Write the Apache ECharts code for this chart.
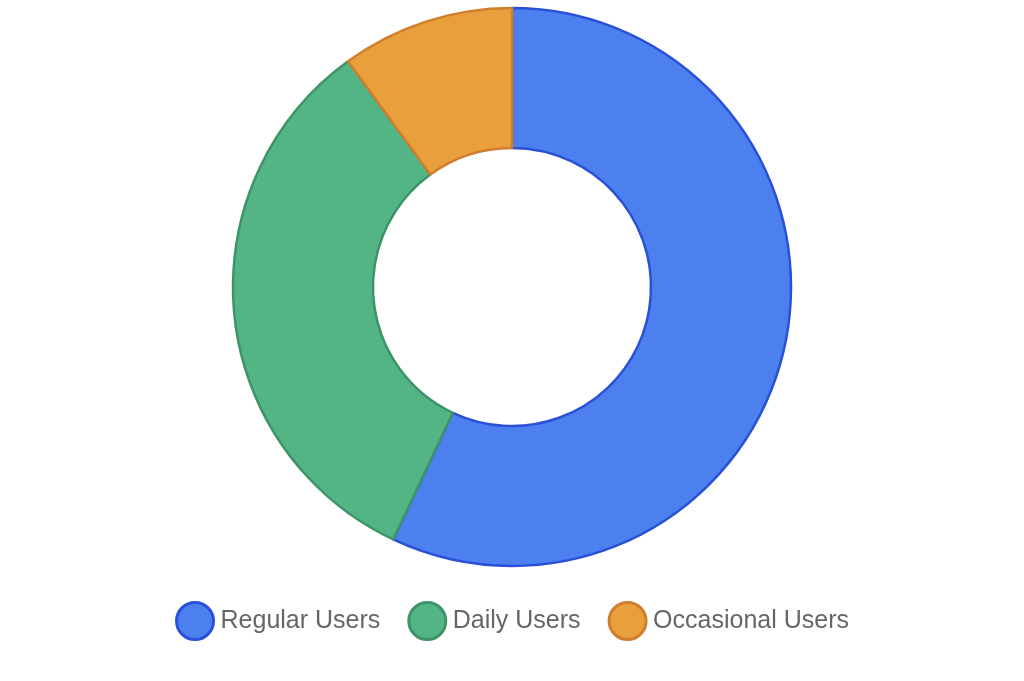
<!DOCTYPE html>
<html>
<head>
<meta charset="utf-8">
<script src="https://cdn.jsdelivr.net/npm/echarts@6/dist/echarts.min.js"></script>
<style>
html,body{margin:0;padding:0;background:#fff;}
#main{width:1024px;height:681px;}
</style>
</head>
<body>
<div id="main"></div>
<script>
const categories = ['Regular Users', 'Daily Users', 'Occasional Users'];
const values = [57, 33, 10];
const fillColors = ['#4c80ee', '#53b586', '#e9a03c'];
const borderColors = ['#2b50d8', '#3e9467', '#cf7e2c'];

const chart = echarts.init(document.getElementById('main'));
chart.setOption({
  animation: false,
  legend: {
    data: categories,
    top: 596,
    left: 'center',
    icon: 'circle',
    itemWidth: 37,
    itemHeight: 37,
    itemGap: 27,
    itemStyle: { borderWidth: 3 },
    textStyle: { fontSize: 25, color: '#666', fontFamily: 'Liberation Sans, Arial, sans-serif', padding: [0, 0, 8, 2] }
  },
  series: [{
    type: 'pie',
    center: [512, 287],
    radius: [139, 279],
    startAngle: 90,
    label: { show: false },
    labelLine: { show: false },
    data: categories.map((c, i) => ({
      name: c,
      value: values[i],
      itemStyle: { color: fillColors[i], borderColor: borderColors[i], borderWidth: 2.5 }
    }))
  }]
});
</script>
</body>
</html>
